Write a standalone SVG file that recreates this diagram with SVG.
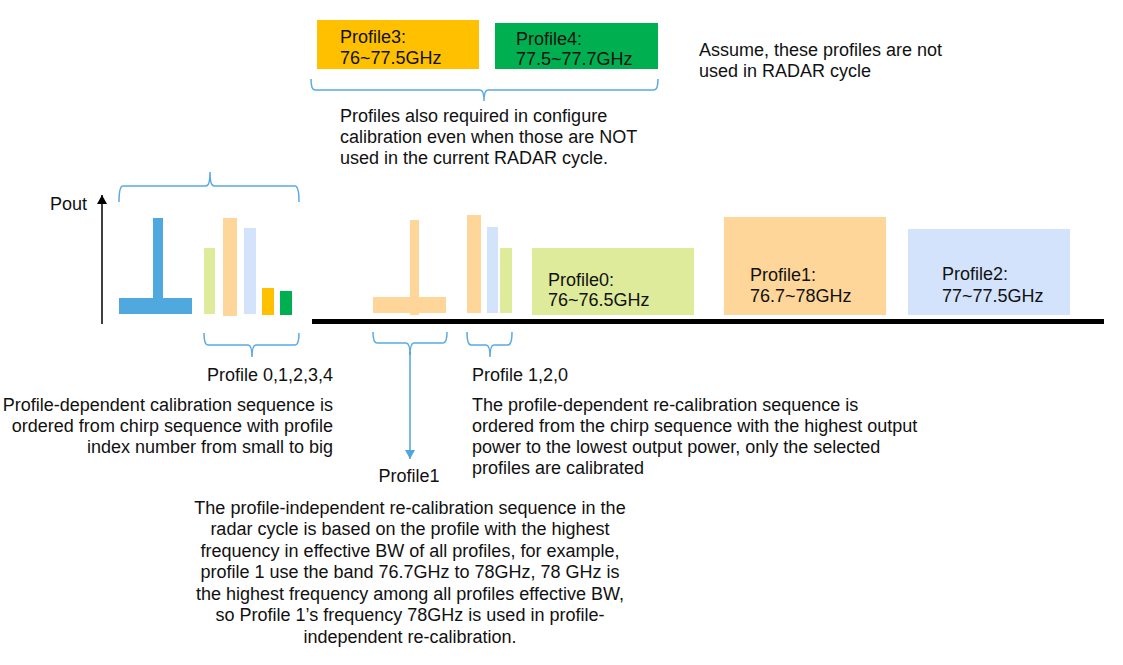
<svg xmlns="http://www.w3.org/2000/svg" width="1123" height="665" viewBox="0 0 1123 665">
<defs>
<style>
text{font-family:"Liberation Sans",Arial,sans-serif;font-size:18px;fill:#111;}
.brace{fill:none;stroke:#5aa9e4;stroke-width:1.5;}
.lo{fill:#FFD699;}
.lg{fill:#DDEB9B;}
.lb{fill:#D3E3FC;}
.or{fill:#FFC000;}
.gr{fill:#00B050;}
.bl{fill:#4FA9DF;}
</style>
<marker id="ahBlack" markerWidth="10" markerHeight="10" refX="9" refY="5" orient="auto" markerUnits="userSpaceOnUse">
<path d="M0,0 L9,5 L0,10 z" fill="#000"/>
</marker>
<marker id="ahBlue" markerWidth="10" markerHeight="10" refX="9" refY="5" orient="auto" markerUnits="userSpaceOnUse">
<path d="M0,0 L9,5 L0,10 z" fill="#4ea6dc"/>
</marker>
</defs>
<rect width="1123" height="665" fill="#fff"/>

<g id="profile3">
<rect x="317" y="20" width="162" height="49" class="or"/>
<text x="340" y="43">Profile3:</text>
<text x="340" y="64">76~77.5GHz</text>
</g>
<g id="profile4">
<rect x="495" y="23" width="163" height="46" class="gr"/>
<text x="516" y="45">Profile4:</text>
<text x="516" y="65">77.5~77.7GHz</text>
</g>
<g id="assume-note">
<text x="699" y="56">Assume, these profiles are not</text>
<text x="699" y="77">used in RADAR cycle</text>
</g>
<g id="profiles-note">
<text x="340" y="122">Profiles also required in configure</text>
<text x="340" y="143">calibration even when those are NOT</text>
<text x="340" y="164">used in the current RADAR cycle.</text>
</g>

<g id="axis">
<text x="50" y="210">Pout</text>
</g>

<g id="calib-bars">
<rect x="119" y="298" width="73" height="16" class="bl"/>
<rect x="153" y="218" width="10" height="96" class="bl"/>
<rect x="204" y="248" width="11" height="66" class="lg"/>
<rect x="223" y="218" width="14" height="98" class="lo"/>
<rect x="244" y="228" width="12" height="86" class="lb"/>
<rect x="262" y="288" width="12" height="27" class="or"/>
<rect x="280" y="291" width="12" height="24" class="gr"/>
</g>

<g id="recal-indep">
<rect x="373" y="297" width="73" height="16" class="lo"/>
<rect x="410" y="220" width="9" height="95" class="lo"/>
</g>

<g id="recal-dep">
<rect x="467" y="215" width="14" height="98" class="lo"/>
<rect x="487" y="227" width="11" height="86" class="lb"/>
<rect x="500" y="248" width="12" height="65" class="lg"/>
</g>

<g id="profile0">
<rect x="532" y="248" width="162" height="67" class="lg"/>
<text x="548" y="286">Profile0:</text>
<text x="548" y="306">76~76.5GHz</text>
</g>
<g id="profile1">
<rect x="724" y="217" width="162" height="98" class="lo"/>
<text x="750" y="281">Profile1:</text>
<text x="750" y="302">76.7~78GHz</text>
</g>
<g id="profile2">
<rect x="908" y="229" width="162" height="86" class="lb"/>
<text x="942" y="280">Profile2:</text>
<text x="942" y="302">77~77.5GHz</text>
</g>

<g id="connectors">
<line x1="102" y1="324" x2="102" y2="195" stroke="#000" stroke-width="1.5" marker-end="url(#ahBlack)"/>
<rect x="312" y="319" width="792" height="5" fill="#000"/>
<path class="brace" d="M311,79 Q311,90 315,90 L480,90 Q484,90 484,101 Q484,90 488,90 L654,90 Q658,90 658,79"/>
<path class="brace" d="M119,202 Q119,186 123,186 L206,186 Q210,186 210,172 Q210,186 214,186 L295,186 Q299,186 299,202"/>
<path class="brace" d="M204,333 Q204,345 208,345 L248,345 Q252,345 252,357 Q252,345 256,345 L295,345 Q299,345 299,333"/>
<path class="brace" d="M373,332 Q373,343 377,343 L406,343 Q410,343 410,355 Q410,343 414,343 L443,343 Q447,343 447,332"/>
<path class="brace" d="M467,332 Q467,345 471,345 L486,345 Q490,345 490,357 Q490,345 494,345 L508,345 Q512,345 512,332"/>
<line x1="410" y1="352" x2="410" y2="459" stroke="#4ea6dc" stroke-width="1.5" marker-end="url(#ahBlue)"/>
</g>

<g id="label-calib">
<text x="333" y="381" text-anchor="end">Profile 0,1,2,3,4</text>
<text x="333" y="411" text-anchor="end">Profile-dependent calibration sequence is</text>
<text x="333" y="432" text-anchor="end">ordered from chirp sequence with profile</text>
<text x="333" y="453" text-anchor="end">index number from small to big</text>
</g>

<g id="label-recal-dep">
<text x="472" y="381">Profile 1,2,0</text>
<text x="472" y="411">The profile-dependent re-calibration sequence is</text>
<text x="472" y="432">ordered from the chirp sequence with the highest output</text>
<text x="472" y="453">power to the lowest output power, only the selected</text>
<text x="472" y="474">profiles are calibrated</text>
</g>

<g id="label-recal-indep" text-anchor="middle">
<text x="409" y="482">Profile1</text>
<text x="410" y="514">The profile-independent re-calibration sequence in the</text>
<text x="410" y="535">radar cycle is based on the profile with the highest</text>
<text x="410" y="557">frequency in effective BW of all profiles, for example,</text>
<text x="410" y="578">profile 1 use the band 76.7GHz to 78GHz, 78 GHz is</text>
<text x="410" y="600">the highest frequency among all profiles effective BW,</text>
<text x="410" y="621">so Profile 1’s frequency 78GHz is used in profile-</text>
<text x="410" y="643">independent re-calibration.</text>
</g>
</svg>
